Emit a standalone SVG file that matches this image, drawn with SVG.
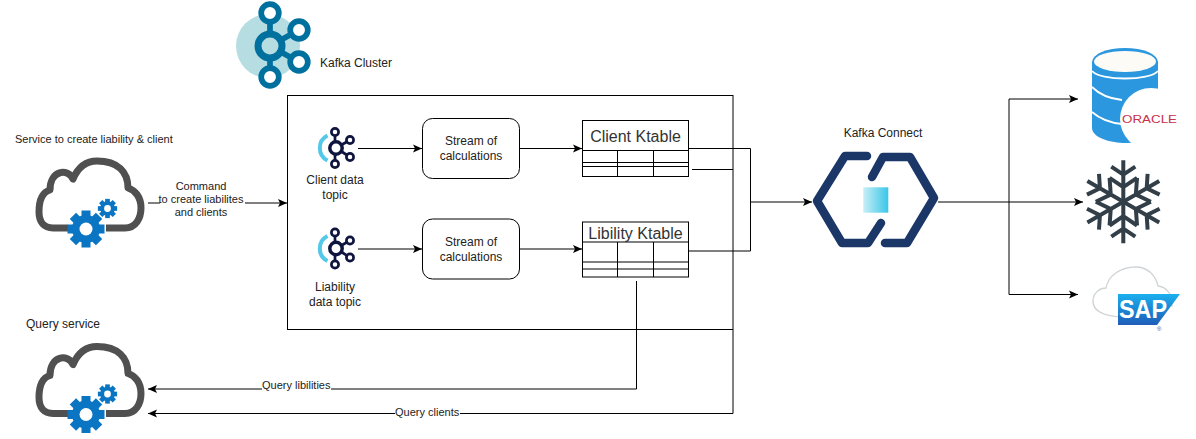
<svg xmlns="http://www.w3.org/2000/svg" width="1196" height="439" viewBox="0 0 1196 439">
<style>
text{font-family:"Liberation Sans",Arial,sans-serif;font-size:12px;fill:#222}
.s{font-size:11px}
.m{text-anchor:middle}
.t{font-size:16px;fill:#333}
.l{fill:none;stroke:#000;stroke-width:1}
.a{marker-end:url(#arr)}
.box{fill:#fff;stroke:#000;stroke-width:1}
.cl{fill:none;stroke:#505050;stroke-width:7;stroke-linejoin:round}
.k{fill:#fff;stroke:#10153f;stroke-width:2.700}
.kb{fill:#fff;stroke:#00709f;stroke-width:5.700}
.hx{fill:none;stroke:#1a3768;stroke-width:8.500;stroke-linecap:round;stroke-linejoin:round}
.sn{fill:none;stroke:#333f48;stroke-width:4}
.bg{fill:#fff}
</style>
<defs>
<marker id="arr" markerUnits="userSpaceOnUse" markerWidth="11" markerHeight="10" refX="9" refY="4.500" orient="auto">
<path d="M0,0.500 L9,4.500 L0,8.500 L2,4.500 Z" fill="#000"/>
</marker>
<linearGradient id="sq" x1="0" y1="0" x2="1" y2="0"><stop offset="0" stop-color="#c9eef6"/><stop offset="1" stop-color="#38c6ea"/></linearGradient>
<linearGradient id="sap" x1="0" y1="0" x2="0" y2="1"><stop offset="0" stop-color="#1ab0ee"/><stop offset="1" stop-color="#1f5cb8"/></linearGradient>
<g id="gear" fill="#0a75c2">
<rect x="-4.500" y="-18.500" width="9" height="37"/>
<rect x="-4.500" y="-18.500" width="9" height="37" transform="rotate(45)"/>
<rect x="-4.500" y="-18.500" width="9" height="37" transform="rotate(90)"/>
<rect x="-4.500" y="-18.500" width="9" height="37" transform="rotate(135)"/>
<circle r="14"/>
<circle r="6.500" fill="#fff"/>
</g>
<g id="cloud">
<path class="cl" d="M106,228 H125 C136,228 141,218 141,208 C141,197 135,190 128,188 C128,172 118,161 97,161 C82,161 76,172 73,179 C68,168 50,170 50,190 C40,193 39,205 39,212 C39,222 44,228 53,228 H68"/>
<use href="#gear" x="86" y="229"/>
<use href="#gear" transform="translate(107.500,208.500) scale(.52)"/>
</g>
<g id="ktopic">
<path d="M327.500,135.500 A14,14 0 0 0 327.500,160.500" fill="none" stroke="#55c8ea" stroke-width="4"/>
<path class="k" d="M335,136 V164 M336,148 L350,140 M336,148 L350,157"/>
<circle class="k" cx="336" cy="148" r="6.200" style="stroke-width:3.500"/>
<circle class="k" cx="335" cy="132" r="3.600"/>
<circle class="k" cx="350" cy="140" r="3.600"/>
<circle class="k" cx="350" cy="157" r="3.600"/>
<circle class="k" cx="335" cy="164" r="3.600"/>
</g>
<g id="arm">
<path class="sn" d="M0,0 V-41.500 M-12,-35 L0,-27 L12,-35 M-13.750,-23.800 L0,-14.500 L13.750,-23.800"/>
</g>
</defs>

<g id="connectors">
<path class="l a" d="M148,203 H287"/>
<path class="l a" d="M358,148.500 H422"/>
<path class="l a" d="M358,249 H422"/>
<path class="l a" d="M520,148.500 H582"/>
<path class="l a" d="M520,249 H582"/>
<path class="l" d="M689,148.500 H750.500 V251 H689"/>
<path class="l" d="M692,169.500 H733"/>
<path class="l a" d="M750.500,202 H812"/>
<path class="l a" d="M938,202 H1083"/>
<path class="l a" d="M1009,202 V99 H1078"/>
<path class="l a" d="M1009,202 V294.500 H1078"/>
<path class="l a" d="M636.500,281 V389 H148"/>
<path class="l a" d="M733,330 V413.500 H148"/>
</g>

<g id="kafka-cluster">
<circle cx="268" cy="46" r="32" fill="#b5dde2"/>
<path class="kb" d="M270,13 V77 M270,46 L299,30 M270,46 L299,62"/>
<circle class="kb" cx="270" cy="46" r="12" style="stroke-width:7;fill:#b5dde2"/>
<circle class="kb" cx="270" cy="13" r="8.800"/>
<circle class="kb" cx="299" cy="30" r="8.800"/>
<circle class="kb" cx="299" cy="62" r="8.800"/>
<circle class="kb" cx="270" cy="77" r="8.800"/>
<text x="320" y="67">Kafka Cluster</text>
</g>

<g id="cluster-box"><rect x="287.500" y="95.500" width="445.500" height="234" fill="none" stroke="#000"/></g>

<g id="service-create">
<text class="s" x="15" y="143">Service to create liability &amp; client</text>
<use href="#cloud"/>
</g>

<g id="command-label">
<rect class="bg" x="160" y="180" width="85" height="38"/>
<text class="m s" x="201" y="190">Command</text>
<text class="m s" x="201" y="203">to create liabilites</text>
<text class="m s" x="201" y="216">and clients</text>
</g>

<g id="query-service">
<text x="26" y="328">Query service</text>
<use href="#cloud" y="185.500"/>
</g>

<g id="client-topic">
<use href="#ktopic"/>
<text class="m" x="335" y="184">Client data</text>
<text class="m" x="335" y="199">topic</text>
</g>
<g id="liability-topic">
<use href="#ktopic" y="100.500"/>
<text class="m" x="335" y="291">Liability</text>
<text class="m" x="335" y="306">data topic</text>
</g>

<g id="stream-1">
<rect class="box" x="422.500" y="118.500" width="97" height="60" rx="10"/>
<text class="m" x="471" y="145">Stream of</text>
<text class="m" x="471" y="160">calculations</text>
</g>
<g id="stream-2">
<rect class="box" x="422.500" y="219" width="97" height="60" rx="10"/>
<text class="m" x="471" y="246">Stream of</text>
<text class="m" x="471" y="261">calculations</text>
</g>

<g id="client-ktable">
<rect class="box" x="582.500" y="120.500" width="106" height="56"/>
<path class="l" d="M582.500,150.500 H688.500 M582.500,162.500 H688.500 M582.500,166.500 H688.500 M617.500,150.500 V176.500 M653.500,150.500 V176.500"/>
<text class="m t" x="635.500" y="142">Client Ktable</text>
</g>
<g id="liability-ktable">
<rect class="box" x="582.500" y="222" width="106" height="55"/>
<path class="l" d="M582.500,242 H688.500 M582.500,262 H688.500 M582.500,269 H688.500 M617.500,242 V277 M653.500,242 V277"/>
<text class="m t" x="635.500" y="239">Libility Ktable</text>
</g>

<g id="kafka-connect">
<text class="m" x="883" y="137">Kafka Connect</text>
<path class="hx" d="M867,156 H845 L817,201 L842,243 H868 L881,223"/>
<path class="hx" d="M872,177 L883,157 H910 L934,198 L907,243 H885"/>
<rect x="863.300" y="187.300" width="25" height="25.400" fill="url(#sq)"/>
</g>

<g id="oracle">
<path d="M1092,62 V128 C1092,138 1112,143 1125,143 C1140,143 1158,138 1158,128 V62 Z" fill="#2a97de"/>
<ellipse cx="1125" cy="62" rx="33" ry="14" fill="#2a97de"/>
<ellipse cx="1125" cy="61.500" rx="31" ry="10.500" fill="#fdfbf6"/>
<path d="M1092,71 C1100,81 1150,81 1158,71 M1092,87 C1100,95 1112,99 1122,100 M1092,112 C1100,119 1112,123 1122,124" fill="none" stroke="#fff" stroke-width="1.800"/>
<circle cx="1151" cy="119" r="31" fill="#fff"/>
<rect x="1158" y="88" width="20" height="60" fill="#fff"/>
<text x="1122" y="123" textLength="55" lengthAdjust="spacingAndGlyphs" style="font-size:10.500px;fill:#c8314a">ORACLE</text>
</g>

<g id="snowflake" transform="translate(1123.300,201.700)">
<use href="#arm"/>
<use href="#arm" transform="rotate(60)"/>
<use href="#arm" transform="rotate(120)"/>
<use href="#arm" transform="rotate(180)"/>
<use href="#arm" transform="rotate(240)"/>
<use href="#arm" transform="rotate(300)"/>
</g>

<g id="sap">
<path d="M1127,317 C1113,317 1092,315 1093,300 C1094,292 1100,288 1106,288 C1108,276 1120,267 1136,267 C1148,267 1156,276 1158,286 C1168,287 1173,296 1172,307" fill="none" stroke="#d0d4d6" stroke-width="1.300"/>
<path d="M1118,294 H1180 L1157,325 H1118 Z" fill="url(#sap)"/>
<text x="1119" y="318" style="font-size:25px;font-weight:bold;fill:#fff" textLength="48" lengthAdjust="spacingAndGlyphs">SAP</text>
<text x="1157" y="331" style="font-size:6px;fill:#1f5cb8">®</text>
</g>

<g id="query-labels">
<rect class="bg" x="262" y="380" width="69" height="12"/>
<text class="s" x="262" y="389">Query libilities</text>
<rect class="bg" x="395" y="407" width="65" height="12"/>
<text class="s" x="395" y="416">Query clients</text>
</g>
</svg>
